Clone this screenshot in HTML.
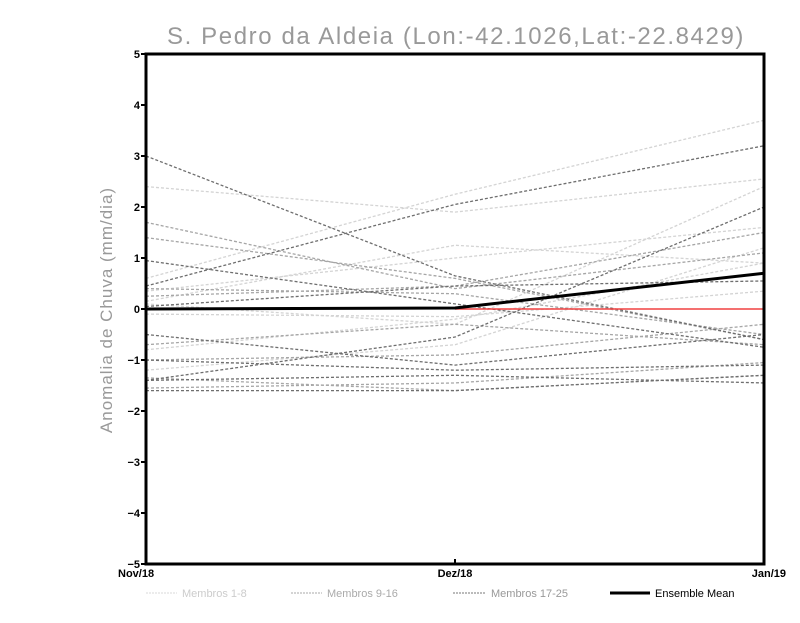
<!DOCTYPE html>
<html><head><meta charset="utf-8"><style>
body{margin:0;background:#fff;font-family:"Liberation Sans",sans-serif}
</style></head><body>
<svg width="800" height="618" xmlns="http://www.w3.org/2000/svg">
<text x="456" y="44" text-anchor="middle" font-size="24" fill="#999" letter-spacing="1.6" font-family="Liberation Sans">S. Pedro da Aldeia (Lon:-42.1026,Lat:-22.8429)</text>
<text transform="translate(112,310) rotate(-90)" text-anchor="middle" font-size="17" fill="#999" letter-spacing="1">Anomalia de Chuva (mm/dia)</text>
<g id="plot"></g>
<g id="legend" font-size="11">
<line x1="146" y1="593" x2="177" y2="593" stroke="#d8d8d8" stroke-dasharray="2,1"/>
<text x="182" y="597" fill="#ccc">Membros 1-8</text>
<line x1="291" y1="593" x2="322" y2="593" stroke="#aaa" stroke-dasharray="2,1"/>
<text x="327" y="597" fill="#aaa">Membros 9-16</text>
<line x1="453" y1="593" x2="485" y2="593" stroke="#777" stroke-dasharray="2,1"/>
<text x="491" y="597" fill="#999">Membros 17-25</text>
<line x1="610" y1="593" x2="650" y2="593" stroke="#000" stroke-width="3"/>
<text x="655" y="597" fill="#000">Ensemble Mean</text>
</g>
</svg>
<script>
const categories=["Nov/18","Dez/18","Jan/19"];
const yTicks=[-5,-4,-3,-2,-1,0,1,2,3,4,5];
const lightSeries=[[2.4,1.9,2.55],[0.6,2.25,3.7],[0.15,1.25,0.9],[0.35,1.0,1.6],[0.1,-0.3,2.4],[-0.1,-0.15,0.35],[-0.8,-0.2,0.9],[-1.2,-0.7,1.2]];
const mediumSeries=[[1.7,0.4,1.1],[1.4,0.6,-0.6],[0.4,0.3,-0.5],[0.25,0.45,1.5],[-1.0,-0.9,-0.3],[-1.35,-1.6,-1.3],[-0.7,-0.3,-0.7],[-1.55,-1.45,-1.05]];
const darkSeries=[[3.0,0.65,-0.6],[0.45,2.05,3.2],[-1.4,-0.55,2.0],[0.95,0.1,-0.75],[-1.0,-1.2,-1.1],[-1.6,-1.6,-1.3],[-0.5,-1.1,-0.5],[0.05,0.45,0.55],[-1.4,-1.3,-1.45]];
const meanSeries=[0,0.02,0.7];
const X0=146,X1=764,Y0=54,Y1=564;
const xs=i=>X0+(X1-X0)*i/(categories.length-1);
const ys=v=>Y1-(v+5)/10*(Y1-Y0);
const NS="http://www.w3.org/2000/svg";
const g=document.getElementById('plot');
function mk(t,a){const e=document.createElementNS(NS,t);for(const k in a)e.setAttribute(k,a[k]);g.appendChild(e);return e;}
function line(vals,color,w,dash){const p=vals.map((v,i)=>xs(i)+','+ys(v)).join(' ');const e=mk('polyline',{points:p,fill:'none',stroke:color,'stroke-width':w});if(dash)e.setAttribute('stroke-dasharray',dash);return e;}
lightSeries.forEach((s,i)=>{const e=line(s,'#d4d4d4',1.3,'3,2');

});
mediumSeries.forEach((s,i)=>{const e=line(s,'#a6a6a6',1.3,'3,2');

});
darkSeries.forEach((s,i)=>{const e=line(s,'#6e6e6e',1.3,'3,2');

});
const z=mk('line',{x1:xs(1),x2:xs(2),y1:ys(0),y2:ys(0),stroke:'#f04040','stroke-width':1.5});


const m=line(meanSeries,'#000',3,null);


const fr=mk('rect',{x:X0,y:Y0,width:X1-X0,height:Y1-Y0,fill:'none',stroke:'#000','stroke-width':3});


yTicks.forEach(v=>{mk('line',{x1:X0-5,x2:X0,y1:ys(v),y2:ys(v),stroke:'#000','stroke-width':2});
const t=mk('text',{x:X0-6,y:ys(v)+4,'text-anchor':'end','font-size':11,'font-weight':'bold'});t.textContent=v<0?'\u2212'+(-v):v;

});
categories.forEach((c,i)=>{mk('line',{x1:xs(i),x2:xs(i),y1:Y1-5,y2:Y1,stroke:'#000','stroke-width':2});
const t=mk('text',{x:xs(i),y:Y1+13,'text-anchor':i==0?'start':(i==categories.length-1?'end':'middle'),'font-size':11,'font-weight':'bold'});
if(i==0)t.setAttribute('x',X0-28);if(i==categories.length-1)t.setAttribute('x',X1+22);
t.textContent=c;

});
</script>
</body></html>
